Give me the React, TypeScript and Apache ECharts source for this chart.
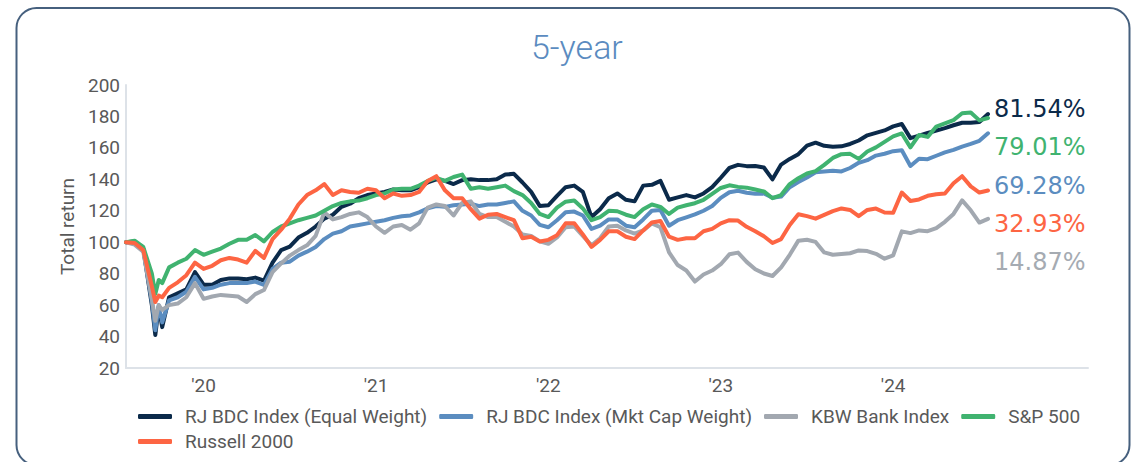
import React, { useEffect, useRef } from "react";
import * as echarts from "echarts";

// decimal years (sample dates)
const dates = [
  2020.05, 2020.1, 2020.15, 2020.2, 2020.22, 2020.24, 2020.26,
  2020.3, 2020.35, 2020.4, 2020.45, 2020.5, 2020.55, 2020.6, 2020.65, 2020.7, 2020.75,
  2020.8, 2020.85, 2020.9, 2020.95, 2021.0, 2021.05, 2021.1, 2021.15, 2021.2, 2021.25,
  2021.3, 2021.35, 2021.4, 2021.45, 2021.5, 2021.55, 2021.6, 2021.65, 2021.7, 2021.75,
  2021.8, 2021.85, 2021.9, 2021.95, 2022.0, 2022.05, 2022.1, 2022.15, 2022.2, 2022.25,
  2022.3, 2022.35, 2022.4, 2022.45, 2022.5, 2022.55, 2022.6, 2022.65, 2022.7, 2022.75,
  2022.8, 2022.85, 2022.9, 2022.95, 2023.0, 2023.05, 2023.1, 2023.15, 2023.2, 2023.25,
  2023.3, 2023.35, 2023.4, 2023.45, 2023.5, 2023.55, 2023.6, 2023.65, 2023.7, 2023.75,
  2023.8, 2023.85, 2023.9, 2023.95, 2024.0, 2024.05, 2024.1, 2024.15, 2024.2, 2024.25,
  2024.3, 2024.35, 2024.4, 2024.45, 2024.5, 2024.55, 2024.6, 2024.65, 2024.7, 2024.75,
  2024.8, 2024.85, 2024.9, 2024.95, 2025.0, 2025.05,
];

const eqWeight = [
  100, 100.5, 96, 60, 41, 59, 46,
  65, 67.5, 70, 81, 73, 73, 76, 77, 77, 76.5,
  77.5, 75.5, 87, 95, 97.2, 103, 106, 110, 115, 117.5,
  122.5, 124.5, 128, 130, 131, 132, 133.5, 133, 133, 135,
  138, 140, 139, 137, 139.5, 140, 139.5, 139.5, 140, 143,
  143.5, 138, 132, 123, 123.5, 129.5, 135, 136, 132, 116,
  121, 128, 131, 127, 126, 136, 136.5, 139, 127, 128.5,
  130, 128.5, 131, 135, 141, 147.3, 149.2, 148.4, 148.5, 147.5,
  140, 149.4, 153, 156, 161.4, 163.3, 161.3, 160.7, 161, 162.5,
  164.7, 168, 169.6, 171.1, 173.7, 175.2, 166.2, 167.8, 169.5, 171,
  172.6, 174.4, 176, 176, 176.5, 181.5,
];

const mktCap = [
  100, 100.3, 96, 62, 44, 60, 49,
  63, 65, 68.5, 78, 70, 71, 73, 74, 74, 74,
  75, 72.8, 83, 87, 87.6, 91.5, 94, 97, 102, 105.5,
  107, 110, 111, 112, 113, 114, 115.5, 116.5, 117, 119,
  121.5, 123, 122.5, 123.5, 124, 124.5, 123, 124, 124, 125,
  126, 120, 117, 111, 109.5, 114, 119, 119.5, 117, 108.5,
  110.5, 114.5, 114.5, 110.5, 109.5, 114.5, 120, 120.5, 110.5, 114,
  115.8, 117.7, 120, 123, 128.2, 131.8, 132.7, 131.5, 130.8, 131,
  128.3, 129, 135, 138.3, 141.2, 144.5, 145, 145.5, 145, 147.2,
  150.5, 152.2, 155.1, 156.3, 157.9, 158.5, 148.5, 153.1, 152.8, 155,
  157.1, 158.7, 160.8, 162.5, 164.5, 169.3,
];

const kbwBank = [
  100, 98.5, 94, 64, 50, 60, 57,
  60, 61, 65, 74, 64, 65.5, 66.5, 66, 65.5, 62,
  67, 69.6, 81, 86.5, 91.5, 95, 98, 104, 119, 114.5,
  116, 118, 119, 116, 110, 106, 110, 111, 108, 112,
  122, 124, 123, 117, 125, 126, 118, 116, 116, 113,
  110, 105, 104, 100.5, 99, 103, 109.5, 110, 104, 98,
  102.5, 110, 110.5, 107.5, 105.5, 107.5, 112, 109.5, 93.5, 85.5,
  82, 75, 79.5, 82, 86, 92.3, 93.4, 87.5, 82.8, 80.1,
  78.5, 84, 92, 101, 101.6, 100.2, 93.5, 92, 92.5, 93,
  94.8, 94.4, 92.6, 89.5, 91.7, 106.9, 105.8, 107.5, 107, 109,
  113, 118, 126.6, 120.3, 112.5, 114.9,
];

const sp500 = [
  100, 101, 97, 80, 67, 76, 74,
  84, 87, 89.5, 95, 92, 94, 96, 99, 101.5, 101.5,
  104.6, 100.5, 106.5, 110, 112, 114, 115.5, 117, 120, 123,
  125, 126, 126.5, 128, 130, 131, 133.5, 134, 134, 136,
  139, 141, 139, 141.5, 143, 134, 135, 134, 135, 136,
  132.5, 130, 125, 118, 116, 122, 125.8, 126.5, 121.5, 114,
  116, 120, 119.7, 117.5, 116, 121, 124, 122.5, 118, 122,
  123.5, 124.8, 127, 130.7, 134.5, 136.2, 135.2, 134.7, 133.5, 132.3,
  128, 130, 137, 140.7, 143.7, 145.2, 149.2, 153.6, 156, 156.2,
  153, 157.7, 160.3, 163.8, 167.3, 169.2, 160.3, 168.2, 167, 173.6,
  175.6, 177.7, 182, 182.5, 177.5, 179,
];

const russell = [
  100, 99.5, 95, 72, 62, 66, 65,
  71, 74.5, 79, 87, 83, 85, 88.5, 90, 89, 87,
  94.5, 90, 102, 108, 115, 124, 130, 133, 137, 130,
  133, 132, 131.5, 134, 133, 128, 131, 129.5, 130, 132,
  139, 142, 133, 128, 128, 121, 115, 117.5, 118, 116,
  114, 102.5, 103.5, 100.5, 101.5, 104.5, 112, 112, 105, 97,
  101.5, 107, 107, 103.5, 102, 107.5, 112.5, 113.5, 103.5, 101.5,
  102.5, 102.5, 107, 108.5, 112, 114, 113.8, 109.8, 107, 103.8,
  99.5, 102, 111, 117.8, 116.6, 115, 117.4, 119.8, 121.5, 120.5,
  116.6, 120.5, 121.4, 118.9, 118.7, 131.6, 126.2, 127.2, 129.5, 130.5,
  131, 137.5, 142, 135.5, 131.6, 132.9,
];

const seriesNames = [
  "RJ BDC Index (Equal Weight)",
  "RJ BDC Index (Mkt Cap Weight)",
  "KBW Bank Index",
  "S&P 500",
  "Russell 2000",
];
const seriesData = [eqWeight, mktCap, kbwBank, sp500, russell];
const seriesColors = ["#0b2a4a", "#5b8dc0", "#a2a8b0", "#40b370", "#fd6543"];

const xLabelPositions = [2020.5, 2021.5, 2022.5, 2023.5, 2024.5];
const xLabels = ["'20", "'21", "'22", "'23", "'24"];

const endLabelTexts = ["81.54%", "79.01%", "69.28%", "32.93%", "14.87%"];
const endLabelColors = ["#0b2a4a", "#40b370", "#5b8dc0", "#fd6543", "#a5abb2"];

const FONT = "Roboto, 'Noto Sans', sans-serif";

export default function App() {
  const ref = useRef<HTMLDivElement>(null);

  useEffect(() => {
    if (!ref.current) return;
    const chart = echarts.init(ref.current, null, { renderer: "svg" });

    const series = seriesNames.map((name, i) => ({
      name,
      type: "line",
      showSymbol: false,
      symbol: "none",
      data: dates.map((d, j) => [d, seriesData[i][j]]),
      lineStyle: { width: 4, color: seriesColors[i], cap: "round", join: "round" },
      itemStyle: { color: seriesColors[i] },
      emphasis: { disabled: true },
    }));

    const endGraphics = endLabelTexts.map((t, i) => ({
      type: "text",
      x: 994,
      y: 109 + i * 38.3,
      silent: true,
      style: {
        text: t,
        fill: endLabelColors[i],
        font: `24px 'DejaVu Sans', ${FONT}`,
        verticalAlign: "middle",
        align: "left",
      },
    }));

    const legendText = {
      fontSize: 19,
      color: "#595959",
      fontFamily: FONT,
      padding: [0, 0, 0, 8],
    };

    chart.setOption({
      animation: false,
      textStyle: { fontFamily: FONT },
      title: {
        text: "5-year",
        left: 526,
        top: 25,
        textStyle: { fontSize: 34, fontWeight: 300, color: "#5b8bc0", fontFamily: FONT },
      },
      grid: { left: 126, top: 85, right: 49, bottom: 94, containLabel: false },
      xAxis: {
        type: "value",
        min: 2020.05,
        max: 2025.63,
        axisLine: { show: true, lineStyle: { color: "#dde2e8", width: 2 } },
        axisTick: { show: false },
        splitLine: { show: false },
        axisLabel: {
          customValues: xLabelPositions,
          formatter: (v: number) => {
            const idx = xLabelPositions.findIndex((p) => Math.abs(p - v) < 1e-6);
            return idx >= 0 ? xLabels[idx] : "";
          },
          color: "#595959",
          fontSize: 19,
          margin: 8,
          fontFamily: FONT,
        },
      },
      yAxis: {
        type: "value",
        min: 20,
        max: 200,
        interval: 20,
        name: "Total return",
        nameLocation: "middle",
        nameGap: 37,
        nameTextStyle: { fontSize: 19, color: "#595959", fontFamily: FONT },
        axisLine: { show: true, lineStyle: { color: "#dde2e8", width: 2 } },
        axisTick: { show: false },
        splitLine: { show: false },
        axisLabel: { color: "#595959", fontSize: 19, margin: 6, fontFamily: FONT },
      },
      legend: [
        {
          left: 133,
          top: 402,
          itemWidth: 34,
          itemHeight: 5,
          itemGap: 12,
          icon: "roundRect",
          data: seriesNames.slice(0, 4),
          textStyle: legendText,
        },
        {
          left: 133,
          top: 427,
          itemWidth: 34,
          itemHeight: 5,
          itemGap: 12,
          icon: "roundRect",
          data: seriesNames.slice(4),
          textStyle: legendText,
        },
      ],
      graphic: [
        {
          type: "rect",
          silent: true,
          z: -10,
          shape: { x: 16.5, y: 8, width: 1113, height: 457, r: 20 },
          style: { fill: "none", stroke: "#46607e", lineWidth: 2 },
        },
        ...endGraphics,
      ],
      series,
    });

    return () => chart.dispose();
  }, []);

  return (
    <div
      ref={ref}
      style={{ position: "absolute", left: 0, top: 0, width: 1137, height: 462, background: "#fff" }}
    />
  );
}
